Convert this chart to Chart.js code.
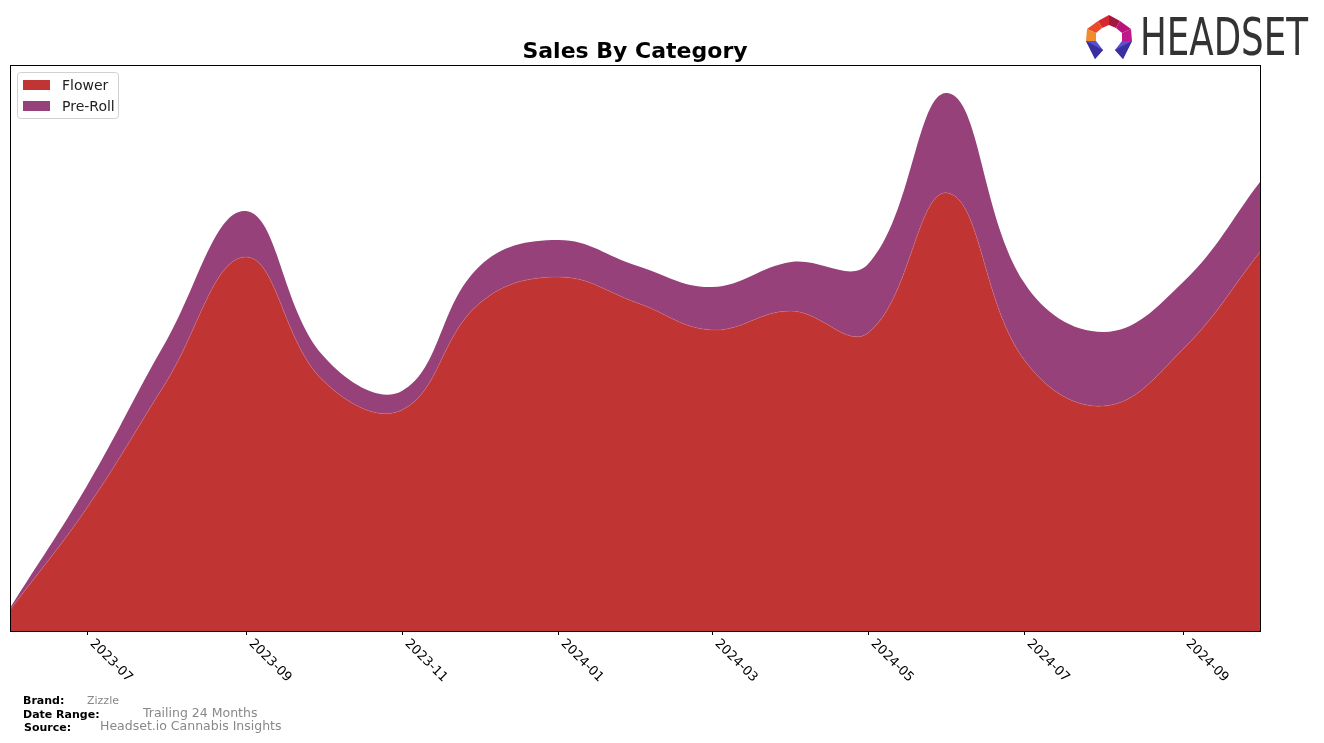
<!DOCTYPE html>
<html>
<head>
<meta charset="utf-8">
<script src="https://cdn.jsdelivr.net/npm/chart.js@4"></script>
<style>
  body { margin: 0; background: #fff; }
  #wrap { position: relative; width: 1324px; height: 743px; }
  #logo { position: absolute; left: 1084px; top: 13px; }
  #logoText { position: absolute; left: 1140px; top: 7px; font-family: "Liberation Sans Narrow", "DejaVu Sans Condensed", sans-serif; font-size: 52px; line-height: 60px; color: #333; transform-origin: 0 0; white-space: nowrap; }
</style>
</head>
<body>
<div id="wrap">
  <canvas id="salesChart" width="1324" height="743"></canvas>
  <svg id="logo" width="50" height="50" viewBox="0 0 50 50">
    <polygon points="14,8 25,2 25,12 18,15" fill="#d8262f"/>
    <polygon points="25,2 36,8 32,15 25,12" fill="#a3163f"/>
    <polygon points="36,8 47,16 38,20 32,15" fill="#b7137b"/>
    <polygon points="14,8 18,15 12,20 3,16" fill="#e84b2a"/>
    <polygon points="3,16 12,20 12,28 2,28" fill="#f28a2e"/>
    <polygon points="47,16 48,28 38,28 38,20" fill="#c0178a"/>
    <polygon points="2,28 12,28 19,37 11,46" fill="#5a4fd0"/>
    <polygon points="48,28 38,28 31,37 39,46" fill="#5a4fd0"/>
    <polygon points="2,28 11,46 19,37" fill="#3a2fa0"/>
    <polygon points="48,28 39,46 31,37" fill="#3a2fa0"/>
  </svg>
  <div id="logoText">HEADSET</div>
</div>
<script>
// monthly points, first of each month
const months = ['2023-06', '2023-07', '2023-08', '2023-09', '2023-10', '2023-11', '2023-12',
    '2024-01', '2024-02', '2024-03', '2024-04', '2024-05', '2024-06', '2024-07', '2024-08',
    '2024-09', '2024-10'];
const flowerSales = [21, 123, 249, 374, 251, 221, 327, 354, 328, 301, 320, 298, 438, 271, 225, 282, 379];
const preRollSales = [2, 22, 41, 46, 25, 19, 37, 37, 37, 43, 49, 69, 100, 77, 74, 67, 70];
const tickLabels = ['2023-07', '2023-09', '2023-11', '2024-01', '2024-03', '2024-05', '2024-07', '2024-09'];

// squeeze the logo word to its width in the reference
const logoText = document.getElementById('logoText');
logoText.style.transform = 'scaleX(' + (168 / logoText.getBoundingClientRect().width) + ')';

const DAY = 86400000;
const start = Date.UTC(2023, 5, 1);
const toDay = s => {
    const [y, m] = s.split('-').map(Number);
    return (Date.UTC(y, m - 1, 1) - start) / DAY;
};

const flowerColor = 'rgb(193, 52, 52)';
const preRollColor = 'rgb(150, 65, 122)';

// title, frame, ticks, legend, footer
const decorations = {
    id: 'decorations',
    afterDraw(chart) {
        const ctx = chart.ctx;
        const area = chart.chartArea;
        const xScale = chart.scales.x;
        ctx.save();

        ctx.strokeStyle = '#000';
        ctx.lineWidth = 1;
        ctx.strokeRect(area.left + 0.5, area.top + 0.5, area.right - area.left, area.bottom - area.top);

        ctx.fillStyle = '#000';
        ctx.font = 'bold 22px "DejaVu Sans"';
        ctx.textAlign = 'center';
        ctx.textBaseline = 'alphabetic';
        ctx.fillText('Sales By Category', (area.left + area.right) / 2, 58);

        ctx.font = '13px "DejaVu Sans"';
        tickLabels.forEach(t => {
            const x = Math.round(xScale.getPixelForValue(toDay(t))) + 0.5;
            ctx.beginPath();
            ctx.moveTo(x, area.bottom);
            ctx.lineTo(x, area.bottom + 4);
            ctx.stroke();
            ctx.save();
            ctx.translate(x + 9, area.bottom + 6);
            ctx.rotate(Math.PI / 4);
            ctx.textAlign = 'left';
            ctx.textBaseline = 'top';
            ctx.fillText(t, 0, 0);
            ctx.restore();
        });

        // legend
        ctx.strokeStyle = '#d0d0d0';
        ctx.fillStyle = 'rgba(255,255,255,0.8)';
        ctx.beginPath();
        ctx.roundRect(17.5, 72.5, 101, 46, 3);
        ctx.fill();
        ctx.stroke();
        chart.data.datasets.forEach((ds, i) => {
            const y = 80 + i * 21;
            ctx.fillStyle = ds.backgroundColor;
            ctx.fillRect(23, y, 27, 10);
            ctx.fillStyle = '#222';
            ctx.font = '14px "DejaVu Sans"';
            ctx.textAlign = 'left';
            ctx.textBaseline = 'middle';
            ctx.fillText(ds.label, 62, y + 6);
        });

        // footer
        ctx.textBaseline = 'middle';
        ctx.fillStyle = '#000';
        ctx.font = 'bold 11px "DejaVu Sans"';
        ctx.fillText('Brand:', 23, 701);
        ctx.fillText('Date Range:', 23, 715);
        ctx.fillText('Source:', 24, 728);
        ctx.fillStyle = '#888';
        ctx.font = '11px "DejaVu Sans"';
        ctx.fillText('Zizzle', 87, 701);
        ctx.font = '12.5px "DejaVu Sans"';
        ctx.fillText('Trailing 24 Months', 143, 714);
        ctx.fillText('Headset.io Cannabis Insights', 100, 727);
        ctx.restore();
    }
};

const salesCtx = document.getElementById('salesChart').getContext('2d');
const salesChart = new Chart(salesCtx, {
    type: 'line',
    data: {
        datasets: [{
            label: 'Flower',
            data: months.map((m, i) => ({ x: toDay(m), y: flowerSales[i] })),
            backgroundColor: flowerColor,
            borderColor: 'rgba(210, 120, 130, 0.6)',
            borderWidth: 0.6,
            fill: 'origin',
            pointRadius: 0,
            tension: 0.4
        }, {
            label: 'Pre-Roll',
            data: months.map((m, i) => ({ x: toDay(m), y: preRollSales[i] })),
            backgroundColor: preRollColor,
            borderColor: preRollColor,
            borderWidth: 0,
            fill: '-1',
            pointRadius: 0,
            tension: 0.4
        }]
    },
    options: {
        responsive: false,
        devicePixelRatio: 1,
        animation: false,
        layout: { padding: { left: 10, right: 64, top: 65, bottom: 112 } },
        scales: {
            x: { type: 'linear', display: false, min: 0, max: toDay('2024-10') },
            y: { stacked: true, display: false, min: 0, max: 566 }
        },
        plugins: {
            legend: { display: false },
            title: { display: false },
            tooltip: { enabled: false }
        }
    },
    plugins: [decorations]
});
</script>
</body>
</html>
